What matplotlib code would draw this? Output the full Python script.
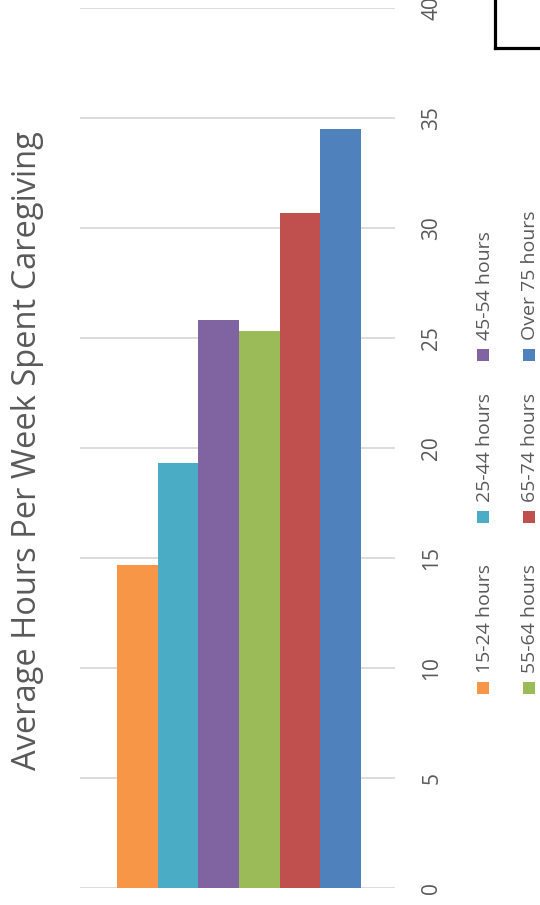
import matplotlib
matplotlib.use("Agg")
import matplotlib.pyplot as plt
from matplotlib.patches import Rectangle
from matplotlib.lines import Line2D

# Average weekly caregiving hours by caregiver's own work schedule
categories = ["15-24 hours", "25-44 hours", "45-54 hours",
              "55-64 hours", "65-74 hours", "Over 75 hours"]
values = [14.7, 19.3, 25.8, 25.3, 30.7, 34.5]
colors = ["#F79646", "#4BACC6", "#8064A2", "#9BBB59", "#C0504D", "#4F81BD"]
yticks = [0, 5, 10, 15, 20, 25, 30, 35, 40]
title = "Average Hours Per Week Spent Caregiving"

W, H = 540, 905
plt.rcParams["font.family"] = ["Open Sans", "DejaVu Sans"]
text_color = "#595959"

fig = plt.figure(figsize=(W / 100, H / 100), dpi=100)
fig.patch.set_facecolor("white")

def fx(px):
    return px / W

def fy(py):
    return 1 - py / H

# plot area: gridlines span x 80..395 px, value 0 at y=888 px and 40 at y=8 px
ax = fig.add_axes([fx(80), fy(888), fx(395) - fx(80), fy(8) - fy(888)])
ax.set_xlim(-1.41, 6.34)
ax.set_ylim(0, 40)

for i, (v, c) in enumerate(zip(values, colors)):
    ax.bar(i, v, width=1.0, color=c, edgecolor="none", zorder=3)

ax.set_yticks(yticks)
ax.set_yticklabels([str(t) for t in yticks])
ax.yaxis.tick_right()
ax.tick_params(axis="y", length=0, pad=19, labelsize=15, labelcolor=text_color,
               labelrotation=90)
for lab in ax.get_yticklabels():
    lab.set_verticalalignment("center")
ax.set_xticks([])
ax.grid(axis="y", color="#d9d9d9", linewidth=1.3, zorder=0)
for s in ax.spines.values():
    s.set_visible(False)
ax.set_facecolor("white")

# rotated title on the left
fig.text(fx(28), fy(451), title, rotation=90, ha="center", va="center",
         fontsize=23.5, color=text_color)

# legend: two rows of three entries, drawn rotated
marker_rows_x = [483, 528.5]
baseline_rows_x = [490, 535]
marker_y = [688, 517, 355]
sq = 12
for k, (name, c) in enumerate(zip(categories, colors)):
    row, col = divmod(k, 3)
    mx, my = marker_rows_x[row], marker_y[col]
    fig.add_artist(Rectangle((fx(mx - sq / 2), fy(my + sq / 2)), sq / W, sq / H,
                             transform=fig.transFigure, facecolor=c,
                             edgecolor="none"))
    fig.text(fx(baseline_rows_x[row]), fy(my - 15), name, rotation=90,
             rotation_mode="anchor", ha="left", va="baseline",
             fontsize=14, color=text_color)

# frame corner in the top-right
lw = 2.3
fig.add_artist(Line2D([fx(494.5), fx(494.5)], [fy(0), fy(48.5)],
                      transform=fig.transFigure, color="black", linewidth=lw,
                      solid_capstyle="projecting"))
fig.add_artist(Line2D([fx(494.5), fx(541)], [fy(48.5), fy(48.5)],
                      transform=fig.transFigure, color="black", linewidth=lw,
                      solid_capstyle="projecting"))

fig.savefig("out.png", dpi=100, facecolor="white")
